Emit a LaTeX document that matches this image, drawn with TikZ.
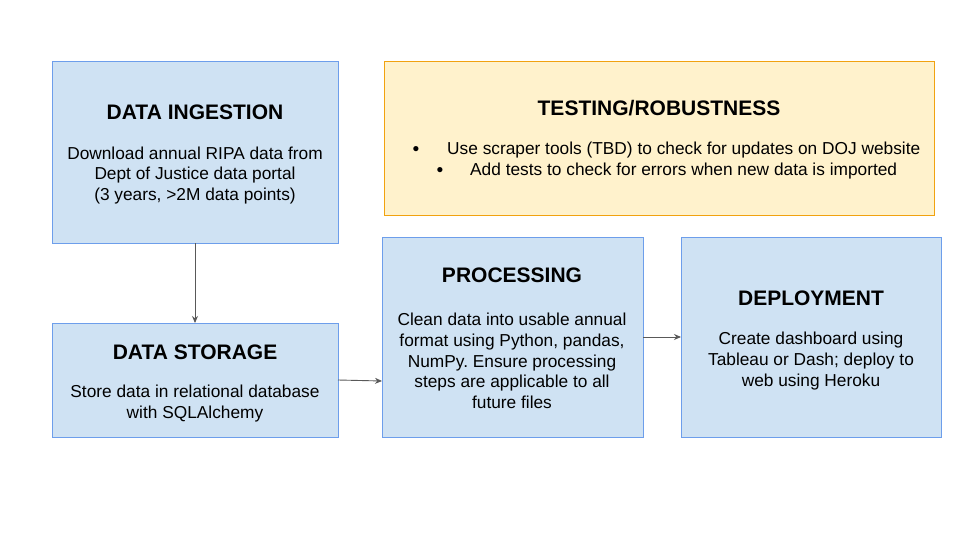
\documentclass[tikz,border=0pt]{standalone}
\usepackage{fontspec}
\setmainfont{Liberation Sans}
\usetikzlibrary{arrows.meta}
\frenchspacing
\definecolor{bluefill}{HTML}{CFE2F3}
\definecolor{blueline}{HTML}{6D9EEB}
\definecolor{yelfill}{HTML}{FFF2CC}
\definecolor{yelline}{HTML}{F1A20F}
\definecolor{arrowc}{HTML}{595959}
\tikzset{
  bluebox/.style={draw=blueline,fill=bluefill,line width=0.9pt},
  yelbox/.style={draw=yelline,fill=yelfill,line width=0.9pt},
  ttl/.style={font=\fontsize{21}{24}\selectfont\bfseries,inner sep=0pt},
  body/.style={font=\fontsize{17.3}{20.7}\selectfont,align=center,inner sep=0pt},
  btxt/.style={font=\fontsize{17.3}{20.7}\selectfont,inner sep=0pt,anchor=west},
  bul/.style={font=\fontsize{12}{14}\selectfont,inner sep=0pt},
  conn/.style={draw=arrowc,line width=0.9pt,-{Stealth[length=7pt,width=6pt]}}
}
\begin{document}
\begin{tikzpicture}[x=1pt,y=-1pt]
\useasboundingbox (0,0) rectangle (960,540);
% boxes
\draw[bluebox] (52,61) rectangle (338,243);
\coordinate (ingB) at (195,243);
\draw[bluebox] (52,323) rectangle (338,437);
\coordinate (stoT) at (195,323);
\coordinate (stoR) at (338,380);
\draw[bluebox] (382,237) rectangle (643,437);
\coordinate (proL) at (382,381);
\coordinate (proR) at (643,337);
\draw[bluebox] (681,237) rectangle (941,437);
\coordinate (depL) at (681,337);
\draw[yelbox] (384,61) rectangle (934,215);
% texts
\node[ttl] (t1) at (195,112) {DATA INGESTION};
\node[body] (b1) at (195,175.5) {Download annual RIPA data from\\Dept of Justice data portal\\(3 years, >2M data points)};
\node[ttl] (t2) at (195,352) {DATA STORAGE};
\node[body] (b2) at (195,403.5) {Store data in relational database\\with SQLAlchemy};
\node[ttl] (t3) at (512,275) {PROCESSING};
\node[body] (b3) at (512,361) {Clean data into usable annual\\format using Python, pandas,\\NumPy. Ensure processing\\steps are applicable to all\\future files};
\node[ttl] (t4) at (811,298) {DEPLOYMENT};
\node[body] (b4) at (811,361) {Create dashboard using\\Tableau or Dash; deploy to\\web using Heroku};
\node[ttl] (t5) at (659,108) {TESTING/ROBUSTNESS};
\node[bul] (u1) at (416,150) {●};
\node[btxt] (l1) at (447,150.5) {Use scraper tools (TBD) to check for updates on DOJ website};
\node[bul] (u2) at (440,171) {●};
\node[btxt] (l2) at (470,171.5) {Add tests to check for errors when new data is imported};
% connectors
\draw[conn] (ingB) -- (stoT);
\draw[conn] (stoR) -- (proL);
\draw[conn] (proR) -- (depL);
\end{tikzpicture}
\end{document}
